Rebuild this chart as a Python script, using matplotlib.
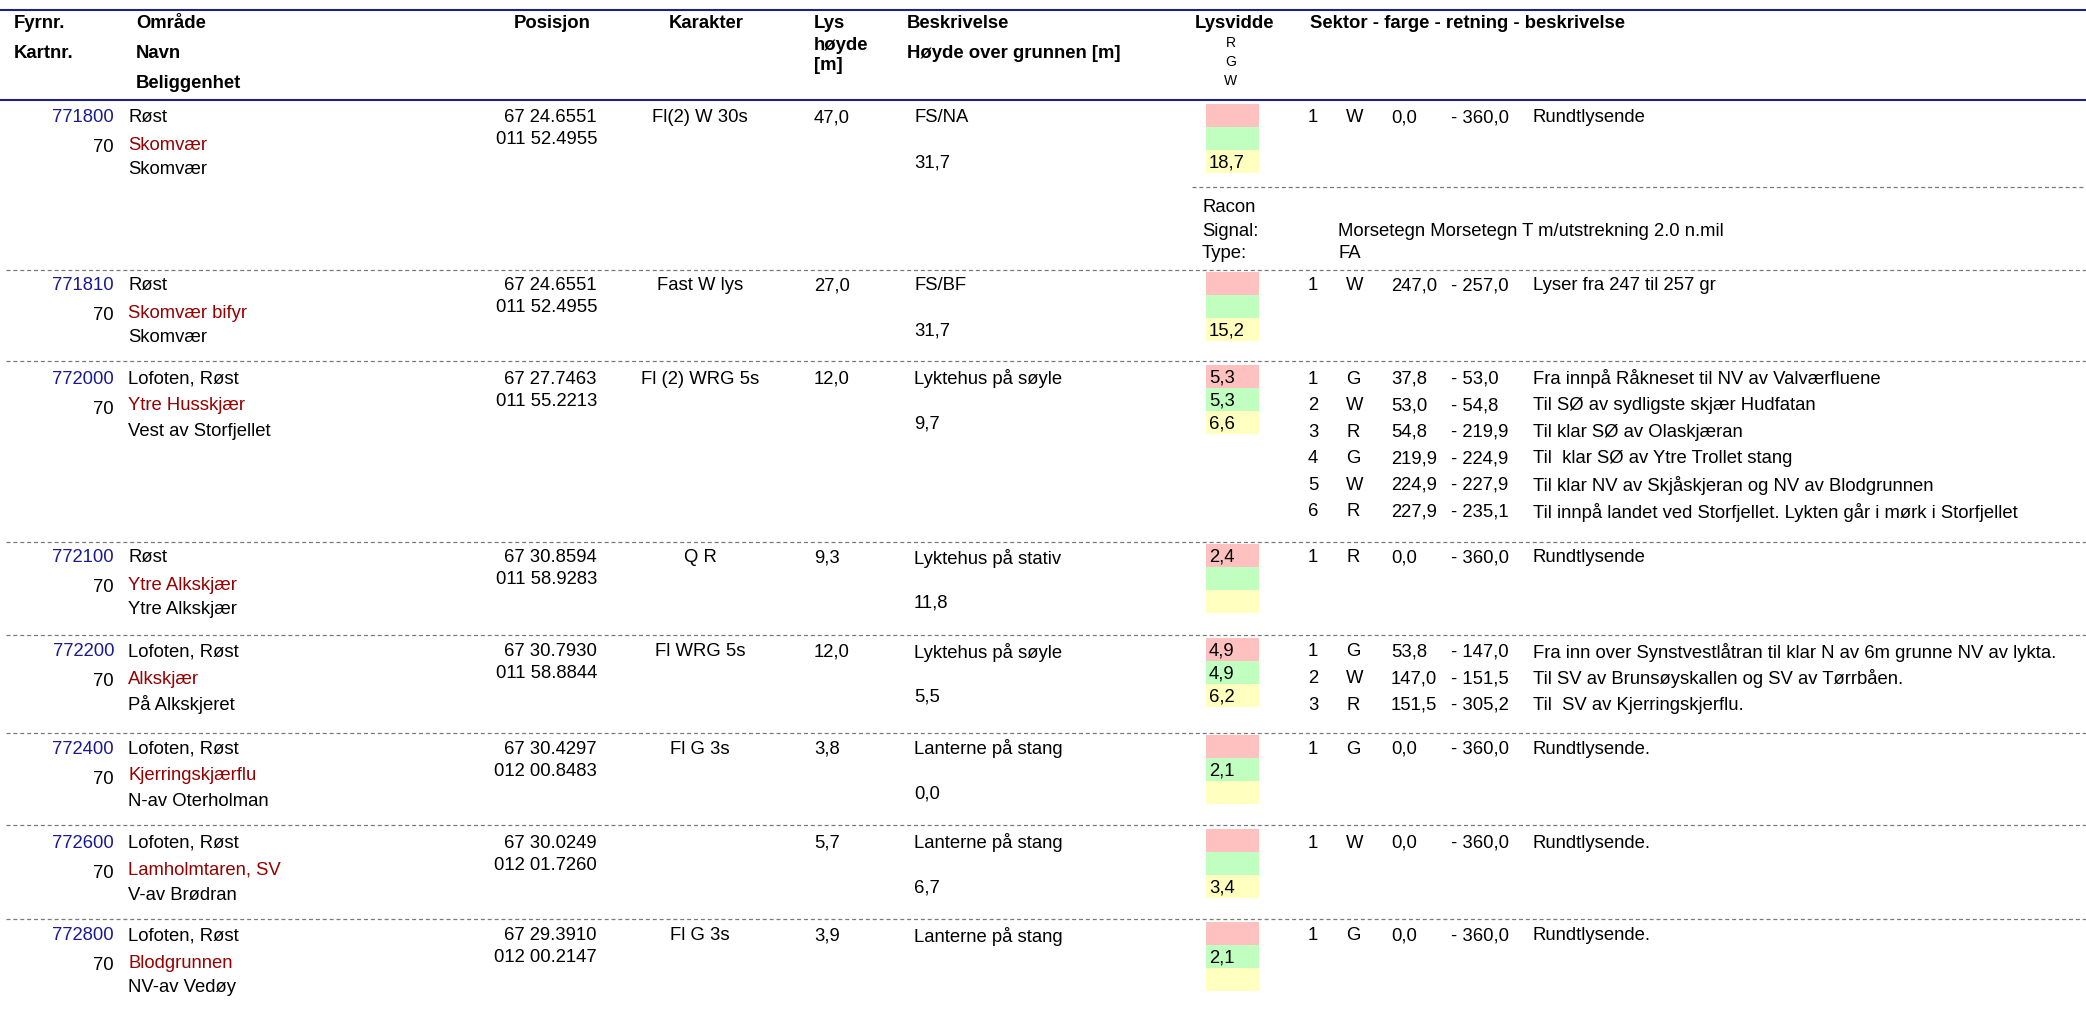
import matplotlib
matplotlib.use("Agg")
import matplotlib.pyplot as plt
from matplotlib.patches import Rectangle

# ---------------- DATA ----------------
fyrnr = ["771800", "771810", "772000", "772100", "772200", "772400", "772600", "772800"]
kartnr = ["70", "70", "70", "70", "70", "70", "70", "70"]
omrade = ["Røst", "Røst", "Lofoten, Røst", "Røst", "Lofoten, Røst", "Lofoten, Røst",
          "Lofoten, Røst", "Lofoten, Røst"]
navn = ["Skomvær", "Skomvær bifyr", "Ytre Husskjær", "Ytre Alkskjær", "Alkskjær",
        "Kjerringskjærflu", "Lamholmtaren, SV", "Blodgrunnen"]
beliggenhet = ["Skomvær", "Skomvær", "Vest av Storfjellet", "Ytre Alkskjær", "På Alkskjeret",
               "N-av Oterholman", "V-av Brødran", "NV-av Vedøy"]
pos_lat = ["67 24.6551", "67 24.6551", "67 27.7463", "67 30.8594", "67 30.7930",
           "67 30.4297", "67 30.0249", "67 29.3910"]
pos_lon = ["011 52.4955", "011 52.4955", "011 55.2213", "011 58.9283", "011 58.8844",
           "012 00.8483", "012 01.7260", "012 00.2147"]
karakter = ["Fl(2) W 30s", "Fast W lys", "Fl (2) WRG 5s", "Q R", "Fl WRG 5s", "Fl G 3s", "", "Fl G 3s"]
lys_hoyde = ["47,0", "27,0", "12,0", "9,3", "12,0", "3,8", "5,7", "3,9"]
beskrivelse = ["FS/NA", "FS/BF", "Lyktehus på søyle", "Lyktehus på stativ", "Lyktehus på søyle",
               "Lanterne på stang", "Lanterne på stang", "Lanterne på stang"]
hoyde_grunn = ["31,7", "31,7", "9,7", "11,8", "5,5", "0,0", "6,7", ""]
lysvidde_R = ["", "", "5,3", "2,4", "4,9", "", "", ""]
lysvidde_G = ["", "", "5,3", "", "4,9", "2,1", "", "2,1"]
lysvidde_W = ["18,7", "15,2", "6,6", "", "6,2", "", "3,4", ""]

sektorer = [
    [("1", "W", "0,0", "360,0", "Rundtlysende")],
    [("1", "W", "247,0", "257,0", "Lyser fra 247 til 257 gr")],
    [("1", "G", "37,8", "53,0", "Fra innpå Råkneset til NV av Valværfluene"),
     ("2", "W", "53,0", "54,8", "Til SØ av sydligste skjær Hudfatan"),
     ("3", "R", "54,8", "219,9", "Til klar SØ av Olaskjæran"),
     ("4", "G", "219,9", "224,9", "Til  klar SØ av Ytre Trollet stang"),
     ("5", "W", "224,9", "227,9", "Til klar NV av Skjåskjeran og NV av Blodgrunnen"),
     ("6", "R", "227,9", "235,1", "Til innpå landet ved Storfjellet. Lykten går i mørk i Storfjellet")],
    [("1", "R", "0,0", "360,0", "Rundtlysende")],
    [("1", "G", "53,8", "147,0", "Fra inn over Synstvestlåtran til klar N av 6m grunne NV av lykta."),
     ("2", "W", "147,0", "151,5", "Til SV av Brunsøyskallen og SV av Tørrbåen."),
     ("3", "R", "151,5", "305,2", "Til  SV av Kjerringskjerflu.")],
    [("1", "G", "0,0", "360,0", "Rundtlysende.")],
    [("1", "W", "0,0", "360,0", "Rundtlysende.")],
    [("1", "G", "0,0", "360,0", "Rundtlysende.")],
]

racon_labels = ["Racon", "Signal:", "Type:"]
racon_values = ["", "Morsetegn Morsetegn T m/utstrekning 2.0 n.mil", "FA"]

# ---------------- LAYOUT / STYLE ----------------
W, H = 2086, 1010
FONT = ["Liberation Sans", "DejaVu Sans"]
FS = 13.3
BLUE_LINE = "#1e1e8c"
BLUE_TXT = "#1a1a90"
RED_TXT = "#950000"
GRAY = "#7a7a7a"
BOX_COLORS = ["#ffc0c0", "#c0ffc0", "#ffffc0"]

rec_y0 = [118, 286, 379, 558, 652, 749, 843, 936]
sep_y = [270, 361, 542, 635, 733, 825, 919]
racon_sep_y = 187
racon_y = [208, 231, 253]
sector_step = 26.6

fig = plt.figure(figsize=(W / 100, H / 100), dpi=100)
ax = fig.add_axes([0, 0, 1, 1])
ax.set_xlim(0, W)
ax.set_ylim(H, 0)
ax.axis("off")


def t(x, y, s, ha="left", color="black", bold=False, size=FS):
    if s:
        ax.text(x, y, s, ha=ha, va="center", color=color,
                fontweight="bold" if bold else "normal", fontsize=size, family=FONT)


# header
ax.plot([0, W], [10, 10], color=BLUE_LINE, lw=1.5, solid_capstyle="butt")
ax.plot([0, W], [100, 100], color=BLUE_LINE, lw=1.5, solid_capstyle="butt")
t(14, 23, "Fyrnr.", bold=True)
t(14, 53, "Kartnr.", bold=True)
t(136, 23, "Område", bold=True)
t(136, 53, "Navn", bold=True)
t(136, 83, "Beliggenhet", bold=True)
t(552, 23, "Posisjon", ha="center", bold=True)
t(706, 23, "Karakter", ha="center", bold=True)
t(814, 23, "Lys", bold=True)
t(814, 45, "høyde", bold=True)
t(814, 65, "[m]", bold=True)
t(907, 23, "Beskrivelse", bold=True)
t(907, 53, "Høyde over grunnen [m]", bold=True)
t(1195, 23, "Lysvidde", bold=True)
for yy, s in zip([43, 62, 81], ["R", "G", "W"]):
    t(1231, yy, s, ha="center", size=10)
t(1310, 23, "Sektor - farge - retning - beskrivelse", bold=True)

# separators
dash = dict(color=GRAY, lw=0.9, linestyle=(0, (3.2, 2.3)))
for y in sep_y:
    ax.plot([6, W], [y, y], **dash)
ax.plot([1192, W], [racon_sep_y, racon_sep_y], **dash)

# racon block
for y, lab, val in zip(racon_y, racon_labels, racon_values):
    t(1202, y, lab)
    t(1338, y, val)

# records
for i in range(len(fyrnr)):
    y0 = rec_y0[i]
    t(114, y0, fyrnr[i], ha="right", color=BLUE_TXT)
    t(128, y0, omrade[i])
    t(114, y0 + 30, kartnr[i], ha="right")
    t(128, y0 + 27, navn[i], color=RED_TXT)
    t(128, y0 + 52, beliggenhet[i])
    t(597, y0, pos_lat[i], ha="right")
    t(597, y0 + 22, pos_lon[i], ha="right")
    t(700, y0, karakter[i], ha="center")
    t(814, y0, lys_hoyde[i])
    t(914, y0, beskrivelse[i])
    t(914, y0 + 45, hoyde_grunn[i])
    vals = [lysvidde_R[i], lysvidde_G[i], lysvidde_W[i]]
    for k, (c, v) in enumerate(zip(BOX_COLORS, vals)):
        by = y0 - 14 + k * 23
        ax.add_patch(Rectangle((1206, by), 53, 23, facecolor=c, edgecolor="none"))
        t(1209, by + 13, v)
    for j, (nr, col, fra, til, desc) in enumerate(sektorer[i]):
        y = y0 + j * sector_step
        t(1308, y, nr)
        t(1346, y, col)
        t(1391, y, fra)
        t(1451, y, "- " + til)
        t(1533, y, desc)

fig.savefig("out.png", dpi=100)
